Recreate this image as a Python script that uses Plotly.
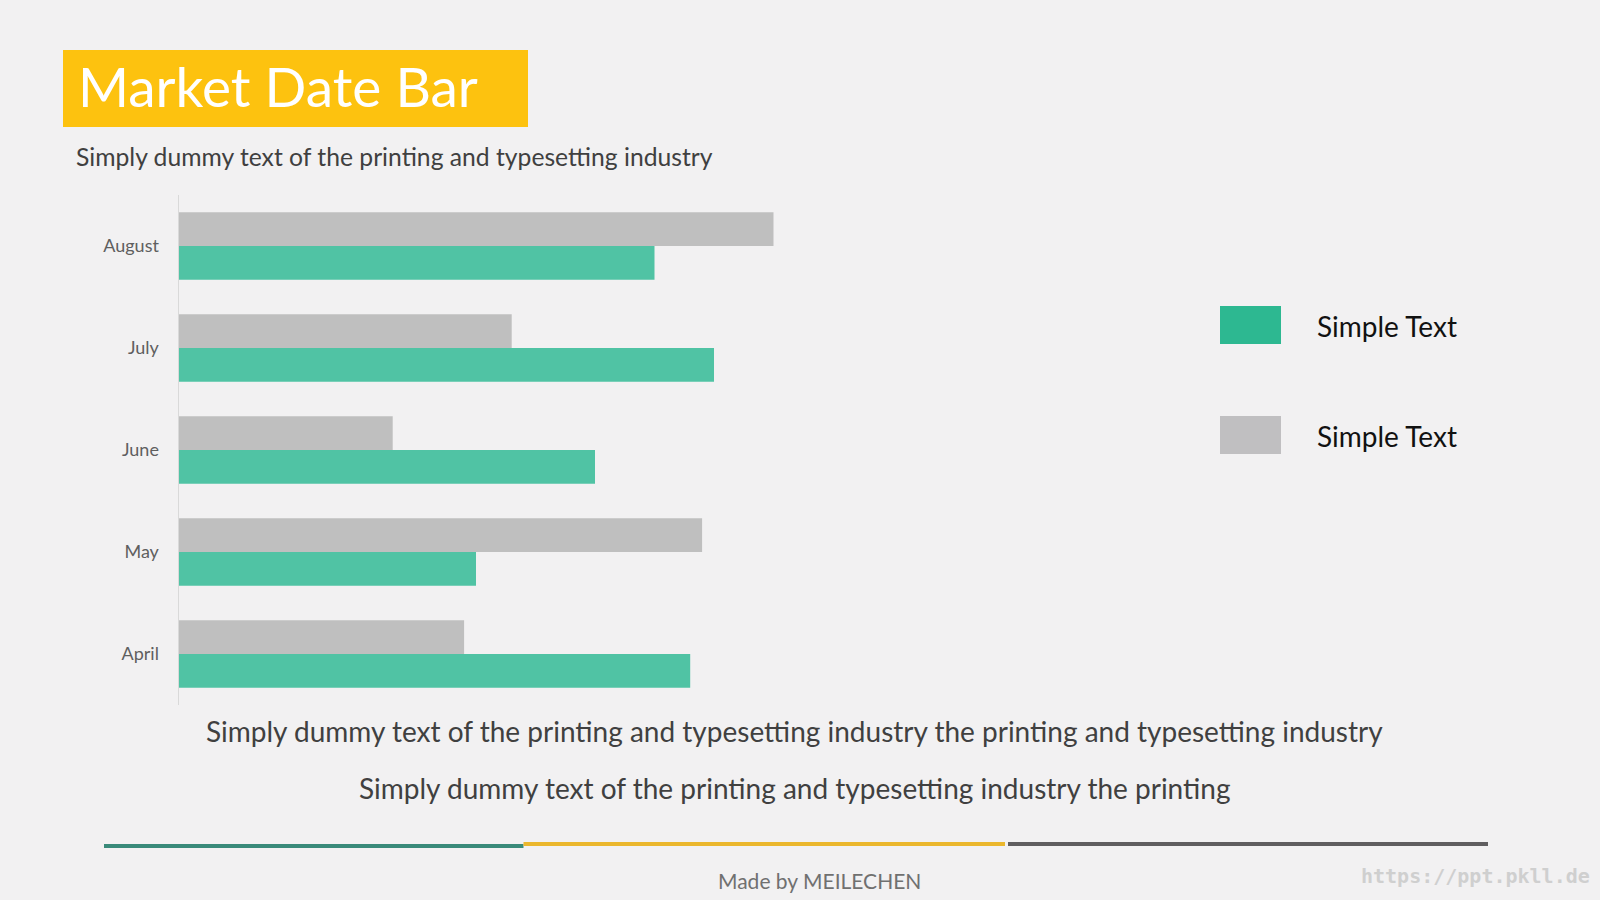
import plotly.graph_objects as go

categories = ["April", "May", "June", "July", "August"]
series_names = ["Simple Text", "Simple Text"]
green_values = [4.3, 2.5, 3.5, 4.5, 4.0]
gray_values = [2.4, 4.4, 1.8, 2.8, 5.0]

title_text = "Market Date Bar"
subtitle_text = "Simply dummy text of the printing and typesetting industry"
body_line1 = "Simply dummy text of the printing and typesetting industry the printing and typesetting industry"
body_line2 = "Simply dummy text of the printing and typesetting industry the printing"
footer_text = "Made by MEILECHEN"
watermark_text = "https://ppt.pkll.de"

GREEN = "#50C3A4"
GRAY = "#BFBFBF"
LEG_GREEN = "#2DB891"
LEG_GRAY = "#C0BFC1"
BG = "#F2F1F2"
W, H = 1600, 900

def px(x):
    return x / W

def py(y):
    return 1 - y / H

fig = go.Figure()
fig.add_trace(go.Bar(y=categories, x=green_values, orientation="h", name=series_names[0],
                     marker=dict(color=GREEN, line=dict(width=0)), showlegend=False))
fig.add_trace(go.Bar(y=categories, x=gray_values, orientation="h", name=series_names[1],
                     marker=dict(color=GRAY, line=dict(width=0)), showlegend=False))

fig.update_layout(
    width=W, height=H,
    margin=dict(l=0, r=0, t=0, b=0),
    paper_bgcolor=BG, plot_bgcolor=BG,
    barmode="group", bargap=0.34, bargroupgap=0,
    xaxis=dict(domain=[px(178.5), px(892.5)], range=[0, 6], visible=False, fixedrange=True),
    yaxis=dict(domain=[py(705), py(195)], range=[-0.5, 4.5], showgrid=False, zeroline=False,
               showline=True, linecolor="#D9D9D9", linewidth=1, ticks="",
               ticklabelstandoff=15,
               tickfont=dict(family="Lato", size=18, color="#5F5F5F")),
    font=dict(family="Lato"),
)

shapes = []
shapes.append(dict(type="rect", xref="paper", yref="paper", x0=px(63), x1=px(528), y0=py(127), y1=py(50),
                   fillcolor="#FDC20F", line=dict(width=0), layer="below"))
shapes.append(dict(type="rect", xref="paper", yref="paper", x0=px(1220), x1=px(1281), y0=py(344), y1=py(306),
                   fillcolor=LEG_GREEN, line=dict(width=0)))
shapes.append(dict(type="rect", xref="paper", yref="paper", x0=px(1220), x1=px(1281), y0=py(454), y1=py(416),
                   fillcolor=LEG_GRAY, line=dict(width=0)))
shapes.append(dict(type="line", xref="paper", yref="paper", x0=px(104), x1=px(523.5), y0=py(846), y1=py(846),
                   line=dict(color="#3A8A7A", width=4)))
shapes.append(dict(type="line", xref="paper", yref="paper", x0=px(523.5), x1=px(1005), y0=py(844), y1=py(844),
                   line=dict(color="#EBB72D", width=4)))
shapes.append(dict(type="line", xref="paper", yref="paper", x0=px(1008), x1=px(1488), y0=py(844), y1=py(844),
                   line=dict(color="#605E60", width=4)))
fig.update_layout(shapes=shapes)

ann = []
ann.append(dict(text=title_text, x=px(76), y=py(86), xanchor="left", yanchor="middle",
                font=dict(family="Lato", size=55, color="#FFFFFF")))
ann.append(dict(text=subtitle_text, x=px(74), y=py(157), xanchor="left", yanchor="middle",
                font=dict(family="Lato", size=24.7, color="#404040")))
ann.append(dict(text=series_names[0], x=px(1315), y=py(326), xanchor="left", yanchor="middle",
                font=dict(family="Lato", size=28, color="#111111")))
ann.append(dict(text=series_names[1], x=px(1315), y=py(436), xanchor="left", yanchor="middle",
                font=dict(family="Lato", size=28, color="#111111")))
ann.append(dict(text=body_line1, x=px(794), y=py(731), xanchor="center", yanchor="middle",
                font=dict(family="Lato", size=28, color="#404040")))
ann.append(dict(text=body_line2, x=px(794), y=py(788), xanchor="center", yanchor="middle",
                font=dict(family="Lato", size=28, color="#404040")))
ann.append(dict(text=footer_text, x=px(820), y=py(880), xanchor="center", yanchor="middle",
                font=dict(family="Lato", size=21, color="#707070")))
ann.append(dict(text="<b>" + watermark_text + "</b>", x=px(1592), y=py(876), xanchor="right", yanchor="middle",
                font=dict(family="DejaVu Sans Mono", size=20, color="#CFCFCF")))
for a in ann:
    a.update(xref="paper", yref="paper", showarrow=False)
fig.update_layout(annotations=ann)

fig.write_html("out.html", config={"displayModeBar": False},
               post_script="document.body.style.margin='0';document.body.style.overflow='hidden';")
